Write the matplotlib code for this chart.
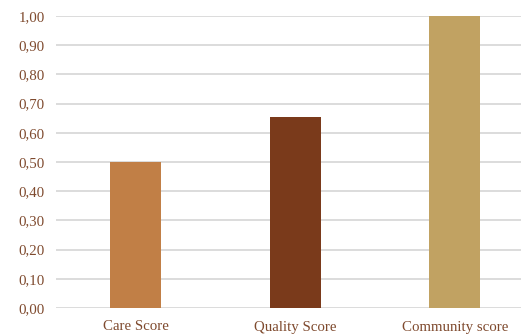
import matplotlib.pyplot as plt
import numpy as np

categories = ["Care Score", "Quality Score", "Community score"]
scores = [0.50, 0.655, 1.00]
colors = ["#c17f46", "#7a3a1b", "#c1a262"]

text_color = "#7f4a2e"
plt.rcParams['font.family'] = ['Liberation Serif', 'DejaVu Serif']

fig = plt.figure(figsize=(5.21, 3.35), dpi=100)
ax = fig.add_axes([56 / 521, 27 / 335, 478.5 / 521, 292 / 335])

x = np.arange(len(categories))
ax.bar(x, scores, width=0.32, color=colors, zorder=3)

ax.set_xlim(-0.5, len(categories) - 0.5)
ax.set_ylim(0, 1.0)
ax.set_yticks(np.arange(0, 1.01, 0.1))
ax.set_yticklabels([f"{v:.2f}".replace(".", ",") for v in np.arange(0, 1.01, 0.1)])
ax.set_xticks(x)
ax.set_xticklabels(categories)

ax.grid(axis='y', color='#d9d9d9', linewidth=1.3, zorder=0)
for s in ax.spines.values():
    s.set_visible(False)
ax.tick_params(axis='both', length=0, labelsize=10.7, colors=text_color)
ax.tick_params(axis='y', pad=8)
ax.tick_params(axis='x', pad=9)

fig.savefig("out.png", dpi=100)
